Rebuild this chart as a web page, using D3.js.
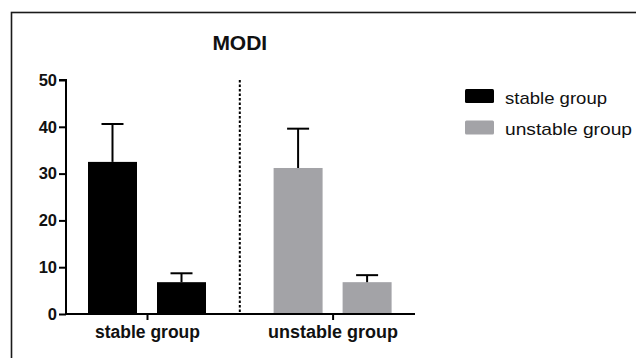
<!DOCTYPE html>
<html>
<head>
<meta charset="utf-8">
<script src="https://cdn.jsdelivr.net/npm/d3@7"></script>
<style>
  body { margin: 0; background: #fff; }
  text { font-family: "Liberation Sans", Arial, sans-serif; }
</style>
</head>
<body>
<div class="chart"></div>
<script>
var width = 636, height = 358;

// data
var groups = ["stable group", "unstable group"];
var subBars = ["first", "second"];
var means = [[32.5, 6.8], [31.2, 6.8]];
var errTops = [[40.6, 8.7], [39.6, 8.3]];
var groupColors = ["#000000", "#a3a3a7"];
var yTicks = [0, 10, 20, 30, 40, 50];

var svg = d3.select(".chart")
    .append("svg")
    .attr("width", width)
    .attr("height", height);

// outer frame (runs off right and bottom)
svg.append("rect")
    .attr("x", 11.5).attr("y", 12.5)
    .attr("width", 640).attr("height", 360)
    .attr("fill", "none")
    .attr("stroke", "#1a1a1a")
    .attr("stroke-width", 1.6);

var y = d3.scaleLinear().domain([0, 50]).range([314, 80]);
var x = d3.scalePoint().domain(groups).range([147, 332.6]);
var xSub = d3.scaleBand().domain(subBars).range([-59, 59]).paddingInner(0.29).paddingOuter(0);

var axisX0 = 66, axisX1 = 415;

// title
svg.append("text")
    .attr("x", (x(groups[0]) + x(groups[1])) / 2)
    .attr("y", 49.5)
    .attr("text-anchor", "middle")
    .style("font-size", "21px")
    .style("font-weight", "bold")
    .attr("fill", "#111")
    .text("MODI");

// dashed separator
var sepX = (x(groups[0]) + x(groups[1])) / 2;
svg.append("line")
    .attr("x1", sepX).attr("x2", sepX)
    .attr("y1", y(50)).attr("y2", y(0))
    .attr("stroke", "#000")
    .attr("stroke-width", 2)
    .attr("stroke-dasharray", "2.5,2");

// bars
var g = svg.append("g");
groups.forEach(function (grp, gi) {
    subBars.forEach(function (s, si) {
        var bx = x(grp) + xSub(s);
        var bw = xSub.bandwidth();
        g.append("rect")
            .attr("x", bx)
            .attr("y", y(means[gi][si]))
            .attr("width", bw)
            .attr("height", y(0) - y(means[gi][si]))
            .attr("fill", groupColors[gi]);
        var cx = bx + bw / 2;
        g.append("line")
            .attr("x1", cx).attr("x2", cx)
            .attr("y1", y(means[gi][si])).attr("y2", y(errTops[gi][si]))
            .attr("stroke", "#000").attr("stroke-width", 2);
        g.append("line")
            .attr("x1", cx - 11).attr("x2", cx + 11)
            .attr("y1", y(errTops[gi][si])).attr("y2", y(errTops[gi][si]))
            .attr("stroke", "#000").attr("stroke-width", 2);
    });
});

// y axis
var yAxis = d3.axisLeft(y).tickValues(yTicks).tickSize(7).tickPadding(2);
var yg = svg.append("g")
    .attr("transform", "translate(" + axisX0 + ",0)")
    .call(yAxis);
yg.select(".domain").attr("stroke-width", 2).attr("d", "M-7," + y(50) + "H0V" + y(0));
yg.selectAll(".tick line").attr("stroke-width", 2);
yg.selectAll(".tick text")
    .style("font-size", "16.5px")
    .style("font-weight", "bold")
    .style("font-family", "'Liberation Sans', Arial, sans-serif")
    .attr("fill", "#111");

// x axis
var xAxis = d3.axisBottom(x).tickSize(6).tickPadding(6).tickSizeOuter(0);
var xg = svg.append("g")
    .attr("transform", "translate(0," + y(0) + ")")
    .call(xAxis);
xg.select(".domain").attr("stroke-width", 2).attr("d", "M" + axisX0 + ",0H" + axisX1);
xg.selectAll(".tick line").attr("stroke-width", 2);
xg.selectAll(".tick text")
    .attr("textLength", function (d, i) { return i === 0 ? 105 : 130; })
    .attr("lengthAdjust", "spacingAndGlyphs")
    .style("font-size", "17.5px")
    .style("font-weight", "bold")
    .style("font-family", "'Liberation Sans', Arial, sans-serif")
    .attr("fill", "#111");

// legend
var legend = svg.append("g").attr("transform", "translate(465,89)");
groups.forEach(function (grp, i) {
    var row = legend.append("g").attr("transform", "translate(0," + (i * 31.5) + ")");
    row.append("rect")
        .attr("width", 29).attr("height", 14).attr("rx", 1.5)
        .attr("fill", groupColors[i]);
    row.append("text")
        .attr("x", 40).attr("y", 14.5)
        .attr("textLength", i === 0 ? 102 : 127)
        .attr("lengthAdjust", "spacingAndGlyphs")
        .style("font-size", "17px")
        .attr("fill", "#111")
        .text(grp);
});
</script>
</body>
</html>
